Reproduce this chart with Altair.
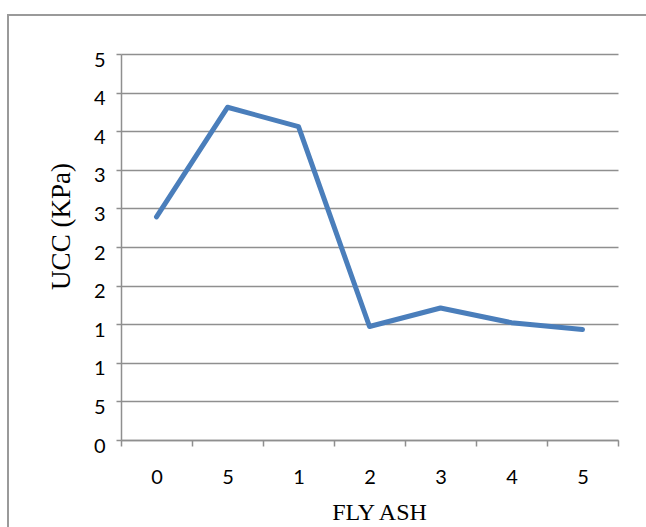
import altair as alt
import pandas as pd

# Fly ash content categories and measured UCC
categories = ["c0", "c1", "c2", "c3", "c4", "c5", "c6"]
cat_labels = ["0", "5", "1", "2", "3", "4", "5"]
ucc = [2.89, 4.31, 4.06, 1.47, 1.71, 1.52, 1.43]

# Y tick values and the text shown for each
y_ticks = [0, 0.5, 1, 1.5, 2, 2.5, 3, 3.5, 4, 4.5, 5]
y_tick_text = ["0", "5", "1", "1", "2", "2", "3", "3", "4", "4", "5"]

df = pd.DataFrame({"cat": categories, "ucc": ucc})

W, H = 497, 386
PAD_L, PAD_T = 121, 54
PAD_R, PAD_B = 646 - PAD_L - W, 527 - PAD_T - H
GRID = "#8f8f8f"

x_label_expr = "{" + ",".join(f"'{c}':'{l}'" for c, l in zip(categories, cat_labels)) + "}[datum.value]"
y_label_expr = "[" + ",".join(f"'{t}'" for t in y_tick_text) + "][round(datum.value*2)]"

x_enc = alt.X(
    "cat:N",
    sort=categories,
    scale=alt.Scale(paddingInner=0, paddingOuter=0),
    axis=alt.Axis(
        title="FLY ASH",
        labelExpr=x_label_expr,
        labelAngle=0,
        tickBand="extent",
        tickSize=6,
        tickColor=GRID,
        tickWidth=1.5,
        domainColor=GRID,
        domainWidth=1.5,
        labelPadding=21,
        labelFont="Lato",
        labelFontSize=20,
        labelColor="#000000",
        titleFont="Liberation Serif",
        titleFontSize=24,
        titleFontWeight="normal",
        titleColor="#000000",
        titleX=258,
        titleY=79,
        titleBaseline="alphabetic",
        grid=False,
    ),
)

y_enc = alt.Y(
    "ucc:Q",
    scale=alt.Scale(domain=[0, 5], nice=False, zero=True),
    axis=alt.Axis(
        title="UCC (KPa)",
        values=y_ticks,
        labelExpr=y_label_expr,
        tickSize=5,
        tickColor=GRID,
        tickWidth=1.5,
        domainColor=GRID,
        domainWidth=1.5,
        gridColor=GRID,
        gridWidth=1.5,
        labelPadding=11,
        labelOffset=6,
        labelFont="Lato",
        labelFontSize=20,
        labelColor="#000000",
        titleFont="Liberation Serif",
        titleFontSize=27,
        titleFontWeight="normal",
        titleColor="#000000",
        titleX=-52,
        titleY=172,
        titleAngle=270,
        titleAlign="center",
        titleBaseline="alphabetic",
    ),
)

line = alt.Chart(df).mark_line(
    color="#4a7ebb", strokeWidth=5, strokeCap="round", strokeJoin="round"
).encode(x=x_enc, y=y_enc)

# Outer chart-area frame
frame = alt.Chart(pd.DataFrame({"f": [0]})).mark_rect(
    fillOpacity=0, stroke="#9a9a9a", strokeWidth=2
).encode(
    x=alt.value(-113), x2=alt.value(W + 60),
    y=alt.value(-39), y2=alt.value(H + 120),
)

chart = alt.layer(line, frame).properties(
    width=W,
    height=H,
    autosize=alt.AutoSizeParams(type="none"),
    padding={"left": PAD_L, "top": PAD_T, "right": PAD_R, "bottom": PAD_B},
    background="#ffffff",
).configure_view(stroke=None)

chart.save("out.html", embed_options={"renderer": "svg", "actions": False})
